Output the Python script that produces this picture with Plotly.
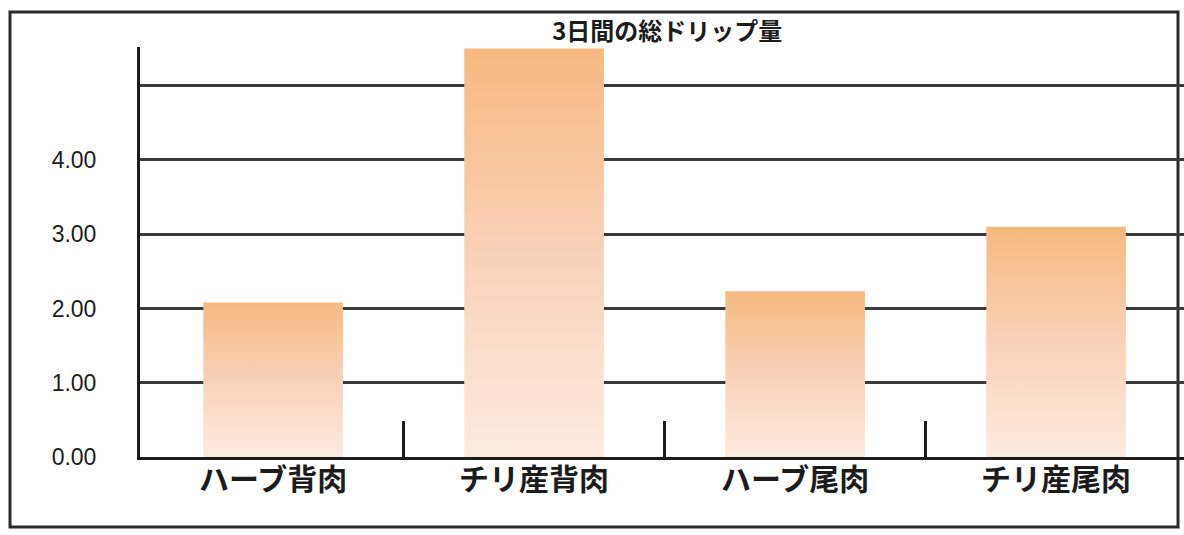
import plotly.graph_objects as go

# Total drip loss over three days, per sample
categories = ["ハーブ背肉", "チリ産背肉", "ハーブ尾肉", "チリ産尾肉"]
drip_totals = [2.08, 5.50, 2.23, 3.10]

y_tick_vals = [0, 1, 2, 3, 4, 5]
y_tick_text = ["0.00", "1.00", "2.00", "3.00", "4.00", ""]

BAR_WIDTH = 0.535
GRADIENT = [[0.0, "#fdebe0"], [0.5, "#f9d1b8"], [1.0, "#f6b97f"]]
INK = "#1c1c1c"
GRID = "#3a3a3a"

fig = go.Figure()

# Each bar is a filled polygon so it can carry its own vertical gradient
for i, (name, value) in enumerate(zip(categories, drip_totals)):
    x0, x1 = i - BAR_WIDTH / 2, i + BAR_WIDTH / 2
    fig.add_trace(go.Scatter(
        x=[x0, x1, x1, x0, x0],
        y=[0, 0, value, value, 0],
        mode="lines",
        fill="toself",
        line=dict(width=0),
        fillgradient=dict(type="vertical", colorscale=GRADIENT),
        name=name,
        text=f"{name}: {value:.2f}",
        hoverinfo="text",
        showlegend=False,
    ))

fig.update_layout(
    width=1184,
    height=535,
    margin=dict(l=140, r=0, t=47, b=78),
    paper_bgcolor="white",
    plot_bgcolor="white",
    title=dict(
        text="<b>3日間の総ドリップ量</b>",
        x=0.505, xref="paper", xanchor="center",
        y=1 - 32 / 535, yref="container", yanchor="middle",
        font=dict(family="Noto Sans CJK JP", size=24, color=INK),
    ),
    xaxis=dict(
        range=[-0.51, 3.49],
        tickvals=list(range(len(categories))),
        ticktext=[f"<b>{c}</b>" for c in categories],
        ticks="",
        showgrid=False,
        zeroline=False,
        showline=True,
        linecolor=INK,
        linewidth=3,
        ticklabelstandoff=-6,
        tickfont=dict(family="Noto Sans CJK JP", size=30, color=INK),
        minor=dict(
            tickvals=[0.5, 1.5, 2.5],
            ticks="inside",
            ticklen=36,
            tickwidth=3,
            tickcolor=INK,
            showgrid=False,
        ),
    ),
    yaxis=dict(
        range=[0, 5.52],
        tickvals=y_tick_vals,
        ticktext=y_tick_text,
        ticks="",
        showgrid=True,
        gridcolor=GRID,
        gridwidth=3,
        zeroline=False,
        showline=True,
        linecolor=INK,
        linewidth=3,
        ticklabelstandoff=36,
        tickfont=dict(family="Liberation Sans", size=23, color=INK),
    ),
)

# Outer frame around the whole figure
fig.add_shape(
    type="rect", xref="paper", yref="paper",
    x0=(10 - 140) / 1044, x1=(1178 - 140) / 1044,
    y0=(457 - 527) / 410, y1=(457 - 12) / 410,
    line=dict(color="#2a2a2a", width=3),
    layer="below",
)

fig.write_html("out.html")
